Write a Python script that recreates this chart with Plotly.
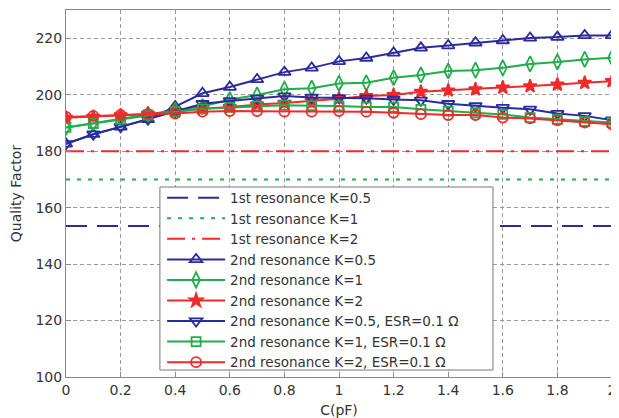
import plotly.graph_objects as go

C = [0, 0.1, 0.2, 0.3, 0.4, 0.5, 0.6, 0.7, 0.8, 0.9, 1.0,
     1.1, 1.2, 1.3, 1.4, 1.5, 1.6, 1.7, 1.8, 1.9, 2.0]

first_x = [0, 2]
first_k05 = [153.5, 153.5]
first_k1 = [170, 170]
first_k2 = [180, 180]

second_k05 = [182.6, 186.0, 188.6, 191.3, 195.8, 200.5, 202.7, 205.4, 208.0, 209.5, 211.8,
              213.0, 214.8, 216.6, 217.4, 218.4, 219.2, 220.1, 220.4, 221.0, 221.0]
second_k1 = [188.4, 190.0, 191.6, 193.0, 194.5, 195.8, 198.3, 199.9, 201.9, 202.3, 204.0,
             204.2, 206.0, 207.0, 208.4, 208.7, 209.5, 210.9, 211.6, 212.5, 213.1]
second_k2 = [191.8, 192.2, 192.7, 193.2, 194.0, 195.0, 195.6, 196.5, 197.1, 197.8, 198.6,
             199.5, 199.9, 201.0, 201.5, 201.9, 202.5, 203.0, 203.6, 204.2, 204.8]
esr_k05 = [182.6, 186.0, 188.6, 191.3, 194.0, 196.8, 197.8, 198.7, 199.5, 199.0, 198.9,
           198.7, 198.3, 198.0, 196.8, 196.0, 195.4, 194.8, 193.3, 192.5, 191.0]
esr_k1 = [188.4, 189.8, 191.3, 192.8, 194.0, 195.0, 195.5, 196.0, 196.3, 196.1, 196.0,
          195.6, 195.6, 194.8, 194.2, 193.6, 193.0, 191.9, 191.3, 190.5, 190.1]
esr_k2 = [192.1, 192.5, 192.8, 193.1, 193.3, 194.0, 194.2, 194.2, 194.0, 194.0, 194.2,
          194.0, 193.6, 193.1, 192.8, 192.8, 191.9, 191.6, 190.9, 190.1, 189.5]

x_ticks = [0, 0.2, 0.4, 0.6, 0.8, 1, 1.2, 1.4, 1.6, 1.8, 2]
x_tick_labels = ["0", "0.2", "0.4", "0.6", "0.8", "1", "1.2", "1.4", "1.6", "1.8", "2"]
y_ticks = [100, 120, 140, 160, 180, 200, 220]

BLUE = "#2b2ba0"
GREEN = "#1fae4a"
RED = "#f02a2a"
FONT = "DejaVu Sans, Arial"
TXT = "#333333"

fig = go.Figure()

fig.add_trace(go.Scatter(x=first_x, y=first_k05, mode="lines", name="1st resonance K=0.5",
                         line=dict(color=BLUE, width=2, dash="21px,10px")))
fig.add_trace(go.Scatter(x=first_x, y=first_k1, mode="lines", name="1st resonance K=1",
                         line=dict(color=GREEN, width=2, dash="4px,7px")))
fig.add_trace(go.Scatter(x=first_x, y=first_k2, mode="lines", name="1st resonance K=2",
                         line=dict(color=RED, width=2, dash="18px,7px,3px,7px")))

def add_series(y, name, color, symbol, size):
    fig.add_trace(go.Scatter(
        x=C, y=y, mode="lines+markers", name=name,
        line=dict(color=color, width=2),
        marker=dict(symbol=symbol, size=size, color=color,
                    line=dict(color=color, width=1.8))))

add_series(second_k05, "2nd resonance K=0.5", BLUE, "triangle-up-open", 11)
add_series(second_k1, "2nd resonance K=1", GREEN, "diamond-tall-open", 11)
add_series(second_k2, "2nd resonance K=2", RED, "star", 10)
add_series(esr_k05, "2nd resonance K=0.5, ESR=0.1 Ω", BLUE, "triangle-down-open", 11)
add_series(esr_k1, "2nd resonance K=1, ESR=0.1 Ω", GREEN, "square-open", 9)
add_series(esr_k2, "2nd resonance K=2, ESR=0.1 Ω", RED, "circle-open", 10)

axis_common = dict(
    showline=True, linecolor="#8a8a8a", linewidth=1, mirror=True,
    ticks="inside", ticklen=5, tickcolor="#8a8a8a",
    showgrid=True, gridcolor="#9a9a9a", griddash="4px,3px", gridwidth=1,
    zeroline=False, automargin=False,
    tickfont=dict(family=FONT, size=14, color=TXT),
)

fig.update_xaxes(range=[0, 2], tickvals=x_ticks, ticktext=x_tick_labels, ticklabelstandoff=0,
                 title=dict(text="C(pF)", font=dict(family=FONT, size=14, color=TXT), standoff=10),
                 **axis_common)
fig.update_yaxes(range=[100, 230], tickvals=y_ticks, ticklabelstandoff=0,
                 title=dict(text="Quality Factor", font=dict(family=FONT, size=14, color=TXT), standoff=14),
                 **axis_common)

# Legend frame (white box with grey border) drawn over the plot; legend entries sit on top.
fig.add_shape(type="rect", xref="paper", yref="paper",
              x0=0.172, x1=0.782, y0=0.019, y1=0.5177,
              fillcolor="white", line=dict(color="#777777", width=1), layer="above")

# The page body has an 8px margin, so the figure is sized to fill the rest of the window.
fig.update_layout(
    width=611, height=410,
    margin=dict(l=58, r=7, t=2, b=41),
    paper_bgcolor="white", plot_bgcolor="white",
    showlegend=True,
    legend=dict(
        x=0.176, y=0.530, xanchor="left", yanchor="top",
        bgcolor="rgba(0,0,0,0)", borderwidth=0,
        font=dict(family=FONT, size=13.5, color=TXT),
        itemwidth=58, tracegroupgap=0,
    ),
)

fig.write_html("out.html")
